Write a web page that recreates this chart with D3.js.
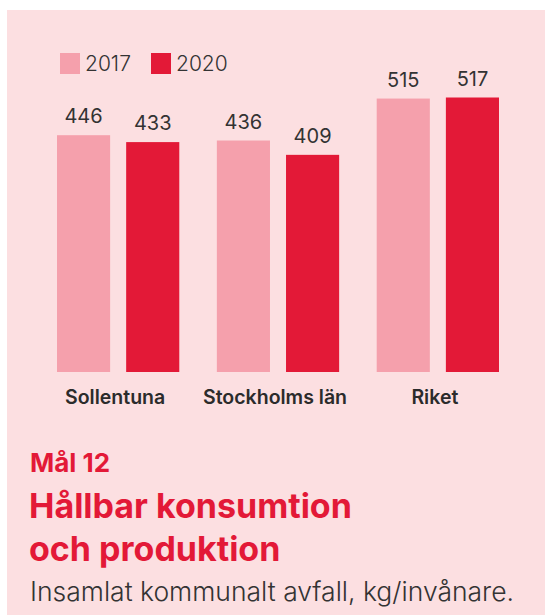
<!DOCTYPE html>
<html><head><meta charset="utf-8">
<script src="https://cdn.jsdelivr.net/npm/d3@7"></script>
<style>
html,body{margin:0;padding:0;background:#fff;}
svg{display:block;font-family:Inter,"Noto Sans",sans-serif;}
</style></head>
<body>
<svg id="c" width="545" height="615"></svg>
<script>
const categories = ["Sollentuna", "Stockholms län", "Riket"];
const years = ["2017", "2020"];
const values2017 = [446, 436, 515];
const values2020 = [433, 409, 517];
const colors = ["#f5a0ac", "#e31937"];

const svg = d3.select("#c");
svg.append("rect").attr("x", 7).attr("y", 10).attr("width", 538).attr("height", 605).attr("fill", "#fcdfe1");

const series = [values2017, values2020];
const x0 = d3.scaleBand().domain(categories).range([57, 499]).paddingInner(0.235).paddingOuter(0);
const x1 = d3.scaleBand().domain(years).range([0, x0.bandwidth()]).paddingInner(0.232);
const y = d3.scaleLinear().domain([0, 517]).range([372, 97.5]);

const g = svg.append("g");
categories.forEach((c, i) => {
  years.forEach((yr, j) => {
    const v = series[j][i];
    const bx = x0(c) + x1(yr);
    g.append("rect").attr("x", bx).attr("y", y(v)).attr("width", x1.bandwidth())
      .attr("height", y(0) - y(v)).attr("fill", colors[j]);
    g.append("text").attr("x", bx + x1.bandwidth() / 2).attr("y", y(v) - 12)
      .attr("text-anchor", "middle").attr("font-size", 20).attr("fill", "#333")
      .text(v);
  });
});

// category axis
const ax = d3.axisBottom(x0).tickSize(0).tickPadding(0);
const axg = svg.append("g").attr("transform", "translate(-3,390)").call(ax);
axg.select(".domain").remove();
axg.selectAll("text").attr("font-size", 19.5).attr("font-weight", 600).attr("fill", "#2b2b2b")
  .attr("font-family", "Inter").attr("dy", "0.71em");

// legend
const lg = svg.append("g");
years.forEach((yr, j) => {
  const lx = 60 + j * 91;
  lg.append("rect").attr("x", lx).attr("y", 53).attr("width", 20).attr("height", 21).attr("fill", colors[j]);
  lg.append("text").attr("x", lx + 25).attr("y", 71).attr("font-size", 21).attr("font-weight", 300)
    .attr("fill", "#333").text(yr);
});

// titles
svg.append("text").attr("x", 30).attr("y", 472).attr("font-size", 26).attr("font-weight", 700)
  .attr("fill", "#e31937").text("Mål 12");
svg.append("text").attr("x", 29).attr("y", 518).attr("font-size", 34).attr("font-weight", 700)
  .attr("fill", "#e31937").text("Hållbar konsumtion");
svg.append("text").attr("x", 29).attr("y", 561).attr("font-size", 34).attr("font-weight", 700)
  .attr("fill", "#e31937").text("och produktion");
svg.append("text").attr("x", 30).attr("y", 601).attr("font-size", 26.5).attr("font-weight", 300)
  .attr("fill", "#333").text("Insamlat kommunalt avfall, kg/invånare.");
</script>
</body></html>
